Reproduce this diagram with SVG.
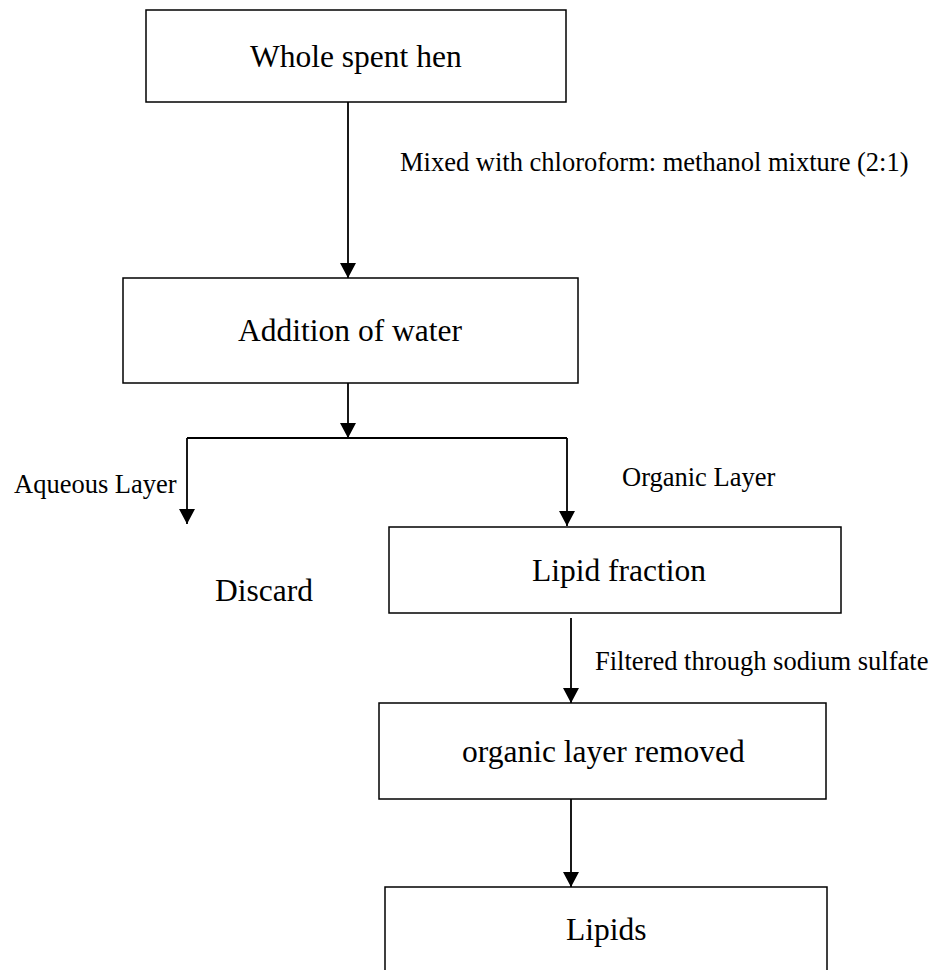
<svg xmlns="http://www.w3.org/2000/svg" width="937" height="970" viewBox="0 0 937 970">
  <style>
    .box { fill: #ffffff; stroke: #000000; stroke-width: 1.5; }
    .node-text { font-family: "Liberation Serif", "Times New Roman", serif; font-size: 31.5px; fill: #000000; }
    .label { font-family: "Liberation Serif", "Times New Roman", serif; font-size: 26.5px; fill: #000000; }
    .wire { fill: none; stroke: #000000; stroke-width: 1.8; }
  </style>
  <defs>
    <marker id="head" markerUnits="userSpaceOnUse" markerWidth="15" markerHeight="16" refX="15" refY="8" orient="auto">
      <path d="M0,0 L15,8 L0,16 Z" fill="#000000"/>
    </marker>
  </defs>

  <rect width="937" height="970" fill="#ffffff"/>

  <!-- process steps -->
  <g id="whole-spent-hen">
    <rect class="box" x="146" y="10" width="420" height="92"/>
    <text class="node-text" x="250" y="67">Whole spent hen</text>
  </g>
  <g id="addition-of-water">
    <rect class="box" x="123" y="278" width="455" height="105"/>
    <text class="node-text" x="238" y="341">Addition of water</text>
  </g>
  <g id="discard">
    <text class="node-text" x="215" y="601">Discard</text>
  </g>
  <g id="lipid-fraction">
    <rect class="box" x="389" y="527" width="452" height="86"/>
    <text class="node-text" x="532" y="581">Lipid fraction</text>
  </g>
  <g id="organic-layer-removed">
    <rect class="box" x="379" y="703" width="447" height="96"/>
    <text class="node-text" x="462" y="762">organic layer removed</text>
  </g>
  <g id="lipids">
    <rect class="box" x="385" y="887" width="442" height="100"/>
    <text class="node-text" x="566" y="940">Lipids</text>
  </g>

  <!-- connectors and their labels -->
  <g id="connectors">
    <line class="wire" x1="348" y1="102" x2="348" y2="278" marker-end="url(#head)"/>
    <line class="wire" x1="348" y1="383" x2="348" y2="438" marker-end="url(#head)"/>
    <line class="wire" x1="187" y1="438" x2="567" y2="438"/>
    <line class="wire" x1="187" y1="438" x2="187" y2="524" marker-end="url(#head)"/>
    <line class="wire" x1="567" y1="438" x2="567" y2="526" marker-end="url(#head)"/>
    <line class="wire" x1="571" y1="618" x2="571" y2="703" marker-end="url(#head)"/>
    <line class="wire" x1="571" y1="799" x2="571" y2="887" marker-end="url(#head)"/>

    <text class="label" x="400" y="171">Mixed with chloroform: methanol mixture (2:1)</text>
    <text class="label" x="14" y="493">Aqueous Layer</text>
    <text class="label" x="622" y="486">Organic Layer</text>
    <text class="label" x="595" y="670">Filtered through sodium sulfate</text>
  </g>
</svg>
